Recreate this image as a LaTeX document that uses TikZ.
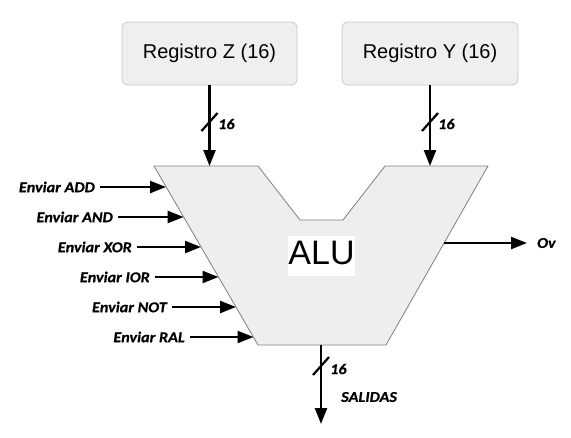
\documentclass[tikz,border=0pt]{standalone}
\usepackage{fontspec}
\setmainfont{Liberation Sans}
\newfontfamily\lblfont{Carlito}[FakeStretch=1.08, BoldItalicFeatures={FakeBold=0.6}]
\usetikzlibrary{arrows.meta}
\definecolor{alufill}{HTML}{EEEEEE}
\definecolor{aluline}{HTML}{808080}
\definecolor{regfill}{HTML}{EFEFEF}
\definecolor{regline}{HTML}{C8C8C8}
\tikzset{
  regbox/.style={draw=regline, fill=regfill, rounded corners=6pt, line width=0.8pt,
    minimum width=175pt, minimum height=63pt, inner sep=0pt,
    font=\fontsize{20}{24}\selectfont},
  sig/.style={line width=2.4pt, -{Triangle[length=16pt,width=12pt]}},
  busslash/.style={line width=2.2pt},
  lbl/.style={inner sep=0pt, font=\lblfont\bfseries\itshape\fontsize{15}{17}\selectfont},
  inlbl/.style={lbl, anchor=east},
  alutxt/.style={fill=white, inner sep=0pt, minimum width=67pt, minimum height=40pt,
    text depth=7pt, font=\fontsize{34}{40}\selectfont}
}
\begin{document}
\begin{tikzpicture}[x=1pt,y=-1pt]
\useasboundingbox (0,0) rectangle (571,437);
% ALU shape
\draw[draw=aluline, fill=alufill, line width=0.8pt]
  (154,166) -- (258,166) -- (300,220) -- (343,220) -- (385,166) -- (488,166)
  -- (386,345) -- (258,345) -- cycle;
\node[alutxt] (alu) at (321.5,256) {ALU};
% registers
\node[regbox] (rz) at (209.5,53.5) {Registro Z (16)};
\node[regbox, minimum width=176pt] (ry) at (430,53.5) {Registro Y (16)};
% ALU input points
\coordinate (inz) at (209.5,166);
\coordinate (iny) at (430,166);
\draw[sig] (rz.south) -- (inz);
\draw[sig] (ry.south) -- (iny);
\coordinate (zs) at (209.5,122);
\coordinate (ys) at (430,122);
\draw[busslash] ([shift={(-8,9)}]zs) -- ([shift={(8,-9)}]zs);
\draw[busslash] ([shift={(-8,9)}]ys) -- ([shift={(8,-9)}]ys);
\node[lbl, anchor=west] (zn) at (218,124) {16};
\node[lbl, anchor=west] (yn) at (438,124) {16};
% control inputs
\node[inlbl] (add) at (95,187) {Enviar ADD};
\node[inlbl] (and) at (113,217) {Enviar AND};
\node[inlbl] (xor) at (132,247) {Enviar XOR};
\node[inlbl] (ior) at (150,277) {Enviar IOR};
\node[inlbl] (not) at (167,307) {Enviar NOT};
\node[inlbl] (ral) at (185,337) {Enviar RAL};
\coordinate (eadd) at (166,187);
\coordinate (eand) at (183.6,217);
\coordinate (exor) at (201,247);
\coordinate (eior) at (218.5,277);
\coordinate (enot) at (236,307);
\coordinate (eral) at (253.5,337);
\draw[sig] ([xshift=5pt]add.east) -- (eadd);
\draw[sig] ([xshift=5pt]and.east) -- (eand);
\draw[sig] ([xshift=5pt]xor.east) -- (exor);
\draw[sig] ([xshift=5pt]ior.east) -- (eior);
\draw[sig] ([xshift=5pt]not.east) -- (enot);
\draw[sig] ([xshift=5pt]ral.east) -- (eral);
% overflow output
\coordinate (ovs) at (444,243);
\node[lbl, anchor=west] (ov) at (537,243) {Ov};
\draw[sig] (ovs) -- ([xshift=-10pt]ov.west);
% result output
\coordinate (outs) at (321,345);
\coordinate (oute) at (321,424);
\draw[sig] (outs) -- (oute);
\coordinate (os) at (321,366);
\draw[busslash] ([shift={(-8,9)}]os) -- ([shift={(8,-9)}]os);
\node[lbl, anchor=west] (on) at (330,369) {16};
\node[lbl, anchor=west] (sal) at (341,397) {SALIDAS};
\end{tikzpicture}
\end{document}
